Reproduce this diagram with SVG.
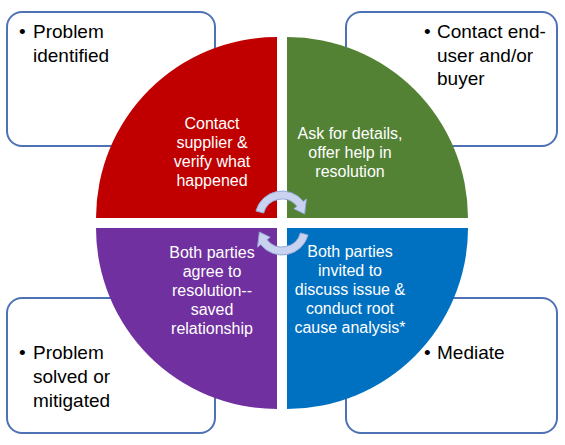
<svg xmlns="http://www.w3.org/2000/svg" width="565" height="445" viewBox="0 0 565 445">
<style>
.box{fill:#fff;stroke:#4F72B5;stroke-width:2}
.bt{font-family:"Liberation Sans",Arial,sans-serif;font-size:19px;fill:#000}
.qt{font-family:"Liberation Sans",Arial,sans-serif;font-size:16px;fill:#fff;text-anchor:middle}
.arr{fill:#C9D2EE;stroke:#92A6D6;stroke-width:1}
</style>
<rect width="565" height="445" fill="#fff"/>
<g id="box-tl">
<rect class="box" x="7" y="12" width="208" height="134" rx="15"/>
<text class="bt" x="19" y="38">•</text>
<text class="bt"><tspan x="33" y="38">Problem</tspan><tspan x="33" y="62">identified</tspan></text>
</g>
<g id="box-tr">
<rect class="box" x="346" y="12" width="211" height="134" rx="15"/>
<text class="bt" x="424" y="38">•</text>
<text class="bt"><tspan x="437" y="38">Contact end-</tspan><tspan x="437" y="62">user and/or</tspan><tspan x="437" y="85">buyer</tspan></text>
</g>
<g id="box-bl">
<rect class="box" x="7" y="298" width="208" height="135" rx="15"/>
<text class="bt" x="19" y="359">•</text>
<text class="bt"><tspan x="33" y="359">Problem</tspan><tspan x="33" y="383">solved or</tspan><tspan x="33" y="407">mitigated</tspan></text>
</g>
<g id="box-br">
<rect class="box" x="346" y="298" width="211" height="135" rx="15"/>
<text class="bt" x="424" y="359">•</text>
<text class="bt" x="437" y="359">Mediate</text>
</g>
<g id="q-red">
<path d="M277,218 L96,218 A181,181 0 0 1 277,37 Z" fill="#C00000"/>
<text class="qt"><tspan x="212" y="129">Contact</tspan><tspan x="212" y="148">supplier &amp;</tspan><tspan x="212" y="167">verify what</tspan><tspan x="212" y="186">happened</tspan></text>
</g>
<g id="q-green">
<path d="M287,218 L287,37 A181,181 0 0 1 468,218 Z" fill="#548235"/>
<text class="qt"><tspan x="350" y="139">Ask for details,</tspan><tspan x="350" y="158">offer help in</tspan><tspan x="350" y="177">resolution</tspan></text>
</g>
<g id="q-purple">
<path d="M277,228 L277,409 A181,181 0 0 1 96,228 Z" fill="#7030A0"/>
<text class="qt"><tspan x="212" y="258">Both parties</tspan><tspan x="212" y="277">agree to</tspan><tspan x="212" y="296">resolution--</tspan><tspan x="212" y="315">saved</tspan><tspan x="212" y="334">relationship</tspan></text>
</g>
<g id="q-blue">
<path d="M287,228 L468,228 A181,181 0 0 1 287,409 Z" fill="#0070C0"/>
<text class="qt"><tspan x="350" y="257">Both parties</tspan><tspan x="350" y="276">invited to</tspan><tspan x="350" y="295">discuss issue &amp;</tspan><tspan x="350" y="314">conduct root</tspan><tspan x="350" y="333">cause analysis*</tspan></text>
</g>
<g id="connectors">
<path class="arr" d="M255.92,211.01 A27,27 0 0 1 303.28,201.38 L306.43,198.91 L304.65,214.01 L293.82,208.76 L296.97,206.30 A19,19 0 0 0 263.65,213.08 Z"/>
<path class="arr" d="M308.08,234.99 A27,27 0 0 1 260.72,244.62 L257.57,247.09 L259.35,231.99 L270.18,237.24 L267.03,239.70 A19,19 0 0 0 300.35,232.92 Z"/>
</g>
</svg>
